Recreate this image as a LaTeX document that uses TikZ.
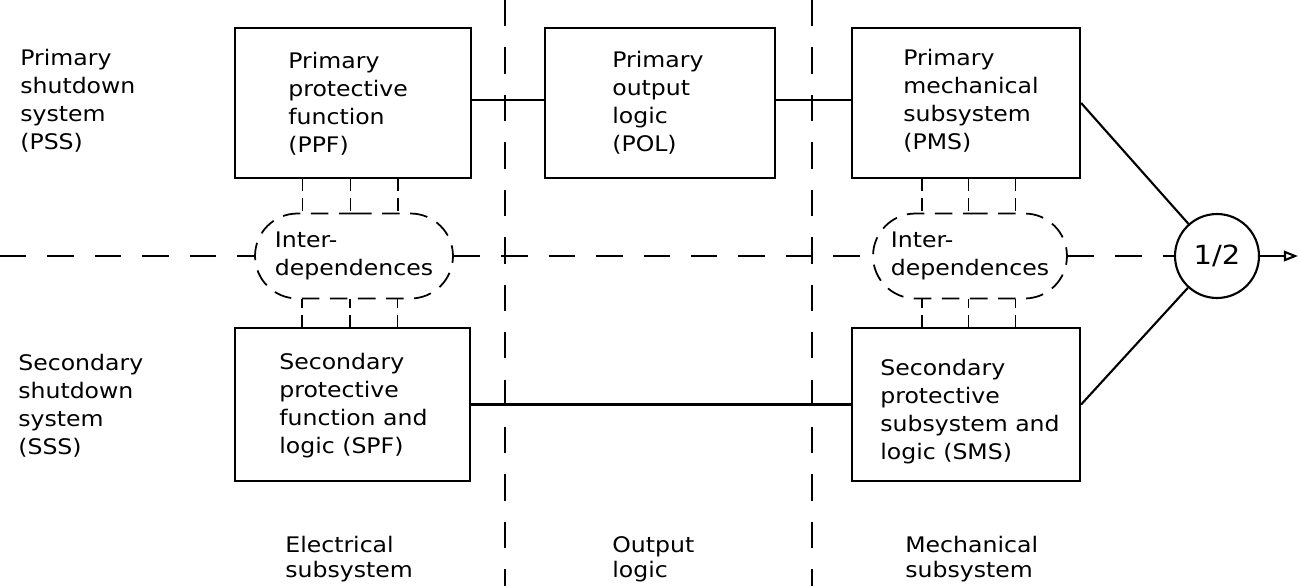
\documentclass[tikz,border=0pt]{standalone}
\usepackage{fontspec}
\setmainfont{DejaVu Sans}[FakeStretch=1.1]
\usetikzlibrary{shapes.misc,arrows.meta,calc}
\begin{document}
\begin{tikzpicture}[x=0.02cm,y=-0.02cm,
  box/.style={draw, line width=1.3pt, rectangle, inner sep=0pt},
  txt/.style={font=\fontsize{12.2}{15.9}\selectfont, align=left, inner sep=0pt, anchor=north west},
  btxt/.style={font=\fontsize{12.2}{14.2}\selectfont, align=left, inner sep=0pt, anchor=north west},
  divider/.style={line width=0.8pt, dash pattern=on 15pt off 12pt},
  inter/.style={draw, rounded rectangle, line width=1pt, dash pattern=on 10pt off 6pt,
     minimum height=1.7cm, align=left, inner sep=0pt, font=\fontsize{12.2}{15.9}\selectfont},
  comb/.style={line width=0.9pt, dash pattern=on 7pt off 4pt},
  link/.style={line width=1.2pt}
]
\useasboundingbox (0,0) rectangle (1299,586);

% boxes
\node[box, minimum width=4.72cm, minimum height=3.0cm] (ppf) at (353,103) {};
\node[box, minimum width=4.6cm,  minimum height=3.0cm] (pol) at (660,103) {};
\node[box, minimum width=4.56cm, minimum height=3.0cm] (pms) at (966,103) {};
\node[box, minimum width=4.7cm,  minimum height=3.06cm] (spf) at (352.5,404.5) {};
\node[box, minimum width=4.56cm, minimum height=3.06cm] (sms) at (966,404.5) {};

% box texts
\node[txt] (tppf) at (288,52) {Primary\\protective\\function\\(PPF)};
\node[txt] (tpol) at (612,51) {Primary\\output\\logic\\(POL)};
\node[txt] (tpms) at (903,49) {Primary\\mechanical\\subsystem\\(PMS)};
\node[txt] (tspf) at (279,353) {Secondary\\protective\\function and\\logic (SPF)};
\node[txt] (tsms) at (880,359) {Secondary\\protective\\subsystem and\\logic (SMS)};

% side labels
\node[txt] (tpss) at (20,49) {Primary\\shutdown\\system\\(PSS)};
\node[txt] (tsss) at (18,354) {Secondary\\shutdown\\system\\(SSS)};

% bottom labels
\node[btxt] (tel) at (285,536) {Electrical\\subsystem};
\node[btxt] (tol) at (612,536) {Output\\logic};
\node[btxt] (tme) at (905,536) {Mechanical\\subsystem};

% interdependences
\node[inter, minimum width=3.96cm] (ie1) at (354,256) {Inter-\\dependences};
\node[inter, minimum width=3.88cm] (ie2) at (970,256) {Inter-\\dependences};

% voting circle
\node[circle, draw, line width=1.2pt, minimum size=1.68cm, inner sep=0pt,
      font=\fontsize{15}{15}\selectfont] (vote) at (1217,256) {1/2};

% dividers
\coordinate (d1t) at (505,0);
\coordinate (d1b) at (505,586);
\coordinate (d2t) at (812,0);
\coordinate (d2b) at (812,586);
\coordinate (hl) at (0,256);
\draw[divider] (d1t) -- (d1b);
\draw[divider] (d2t) -- (d2b);
\draw[divider] (hl) -- (ie1.west);
\draw[divider] (ie1.east) -- (ie2.west);
\draw[divider] (ie2.east) -- (vote.west);

% combs
\foreach \f in {0.288,0.49,0.69}{
  \path ($(ppf.south west)!\f!(ppf.south east)$) coordinate (ca);
  \draw[comb] (ca) -- (ca |- ie1.north);
  \path ($(spf.north west)!\f!(spf.north east)$) coordinate (cb);
  \draw[comb] (cb) -- (cb |- ie1.south);
}
\foreach \f in {0.31,0.51,0.715}{
  \path ($(pms.south west)!\f!(pms.south east)$) coordinate (cc);
  \draw[comb] (cc) -- (cc |- ie2.north);
  \path ($(sms.north west)!\f!(sms.north east)$) coordinate (cd);
  \draw[comb] (cd) -- (cd |- ie2.south);
}

% links
\coordinate (r1) at (0,100);
\coordinate (out) at (1298,256);
\draw[link] (ppf.east |- r1) -- (pol.west |- r1);
\draw[link] (pol.east |- r1) -- (pms.west |- r1);
\draw[link] (spf.east) -- (sms.west);
\draw[link] (pms.east) -- (vote);
\draw[link] (sms.east) -- (vote);
\draw[link, -{Triangle[open, length=8pt, width=6pt]}] (vote.east) -- (out);
\end{tikzpicture}
\end{document}
